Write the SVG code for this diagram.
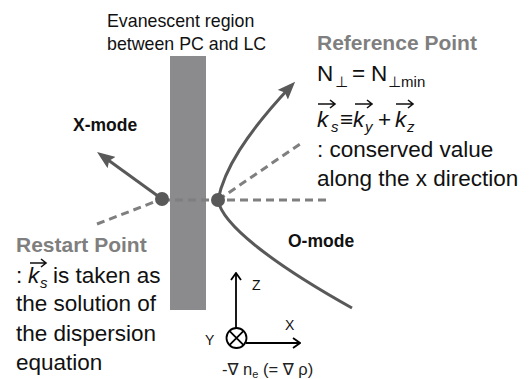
<svg xmlns="http://www.w3.org/2000/svg" width="532" height="379" viewBox="0 0 532 379">
<defs>
<style>
text{font-family:"Liberation Sans","DejaVu Sans",Arial,sans-serif;fill:#111;}
.t{font-size:22.5px;}
.hdr{font-size:21px;font-weight:bold;fill:#7f7f7f;}
.mode{font-size:17.5px;font-weight:bold;}
.cap{font-size:17.8px;}
.it{font-style:italic;}
.sub{font-size:15px;font-style:italic;}
.ax{font-size:14px;}
.ray{fill:none;stroke:#595959;stroke-width:3;}
.dash{fill:none;stroke:#7f7f7f;stroke-width:3;stroke-dasharray:8 5;}
.dot{fill:#595959;}
.axis{fill:none;stroke:#000;stroke-width:1.8;}
.vec{fill:none;stroke:#111;stroke-width:1.6;}
</style>
<marker id="ah" viewBox="0 0 18 14" refX="12" refY="7" markerWidth="18" markerHeight="14" markerUnits="userSpaceOnUse" orient="auto">
<path d="M0,0 L18,7 L0,14 L3,7 z" fill="#595959"/>
</marker>
<marker id="axh" viewBox="0 0 10 12" refX="9" refY="6" markerWidth="10" markerHeight="12" markerUnits="userSpaceOnUse" orient="auto">
<path d="M2,1 L9,6 L2,11" fill="none" stroke="#000" stroke-width="1.8"/>
</marker>
</defs>
<rect width="532" height="379" fill="#fff"/>

<g id="evanescent-region">
<rect x="170" y="56" width="36" height="254" fill="#8b8b8e"/>
<text class="cap" x="107" y="27">Evanescent region</text>
<text class="cap" x="107" y="50">between PC and LC</text>
</g>

<g id="connectors">
<line class="dash" x1="97" y1="224" x2="162" y2="199"/>
<line class="dash" x1="162" y1="200" x2="328" y2="200"/>
<line class="dash" x1="218" y1="200" x2="303" y2="142"/>
<line class="ray" x1="162" y1="199" x2="101.9" y2="155.5" marker-end="url(#ah)"/>
<path class="ray" d="M218,200 C224,170 245,135 291,86" marker-end="url(#ah)"/>
<path class="ray" d="M218,200 C222,225 275,265 352,308"/>
</g>

<g id="restart-point">
<circle class="dot" cx="162" cy="199" r="7"/>
<text class="hdr" x="16" y="252">Restart Point</text>
<text class="t" x="16" y="283">:</text>
<text class="t it" x="28" y="283">k</text>
<text class="sub" x="40" y="288">s</text>
<text class="t" x="53" y="283">is taken as</text>
<path class="vec" d="M30,263 L46,263 M41,259 L46,263 L41,267"/>
<text class="t" x="16" y="311">the solution of</text>
<text class="t" x="16" y="341">the dispersion</text>
<text class="t" x="16" y="370">equation</text>
</g>

<g id="reference-point">
<circle class="dot" cx="218" cy="200" r="7"/>
<text class="hdr" x="317" y="50">Reference Point</text>
<text class="t" x="317" y="81">N</text>
<text class="sub" style="font-style:normal" x="335" y="87">⊥</text>
<text class="t" x="352" y="81">=</text>
<text class="t" x="371" y="81">N</text>
<text class="sub" style="font-style:normal" x="388" y="87">⊥min</text>
<text class="t it" x="317" y="127">k</text>
<text class="sub" x="331" y="132">s</text>
<text class="t" x="340" y="127">≡</text>
<text class="t it" x="353" y="127">k</text>
<text class="sub" x="365" y="132">y</text>
<text class="t" x="378" y="127">+</text>
<text class="t it" x="395" y="127">k</text>
<text class="sub" x="407" y="132">z</text>
<path class="vec" d="M318,104 L335,104 M330,100 L335,104 L330,108"/>
<path class="vec" d="M355,104 L372,104 M367,100 L372,104 L367,108"/>
<path class="vec" d="M396,104 L413,104 M408,100 L413,104 L408,108"/>
<text class="t" x="317" y="157">: conserved value</text>
<text class="t" x="317" y="186">along the x direction</text>
</g>

<g id="x-mode">
<text class="mode" x="73" y="131">X-mode</text>
</g>

<g id="o-mode">
<text class="mode" x="288" y="247">O-mode</text>
</g>

<g id="axes">
<line class="axis" x1="236" y1="328" x2="236" y2="273" marker-end="url(#axh)"/>
<line class="axis" x1="246" y1="343" x2="300" y2="343" marker-end="url(#axh)"/>
<circle cx="236.5" cy="338" r="10" fill="none" stroke="#000" stroke-width="1.8"/>
<path class="axis" d="M229.4,330.9 L243.6,345.1 M243.6,330.9 L229.4,345.1"/>
<text class="ax" x="252" y="290">Z</text>
<text class="ax" x="285" y="330">X</text>
<text class="ax" x="205" y="345">Y</text>
<text style="font-size:16.5px;fill:#222" x="222" y="375">-∇ n<tspan font-size="11" dy="3">e</tspan><tspan dy="-3"> (= ∇ ρ)</tspan></text>
</g>
</svg>
